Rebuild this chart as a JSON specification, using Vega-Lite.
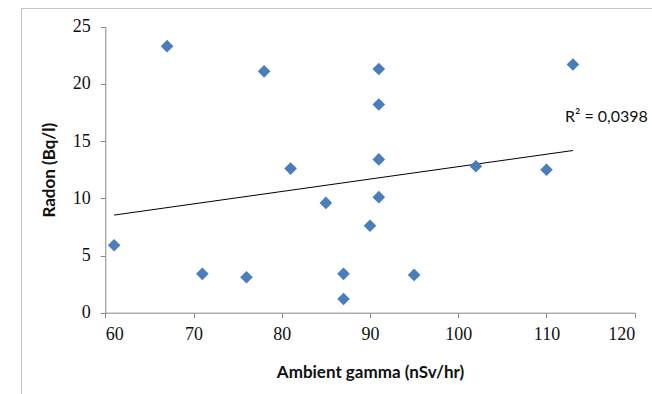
{
  "$schema": "https://vega.github.io/schema/vega-lite/v6.json",
  "width": 631,
  "height": 386,
  "autosize": "none",
  "padding": {"left": 21, "top": 8, "right": 0, "bottom": 0},
  "background": "white",
  "config": {
    "view": {"stroke": "#c4c4c4", "strokeWidth": 1},
    "axis": {
      "grid": false,
      "domainColor": "#868686",
      "tickColor": "#868686",
      "tickSize": 5,
      "labelColor": "#111111",
      "labelFont": "Liberation Serif",
      "labelFontSize": 18,
      "titleFont": "Lato",
      "titleFontSize": 17,
      "titleFontWeight": "bold",
      "titleColor": "#111111"
    }
  },
  "data": {
    "values": [
      {"gamma": 67, "radon": 23.3},
      {"gamma": 78, "radon": 21.1},
      {"gamma": 91, "radon": 21.3},
      {"gamma": 113, "radon": 21.7},
      {"gamma": 91, "radon": 18.2},
      {"gamma": 91, "radon": 13.4},
      {"gamma": 81, "radon": 12.6},
      {"gamma": 102, "radon": 12.8},
      {"gamma": 110, "radon": 12.5},
      {"gamma": 91, "radon": 10.1},
      {"gamma": 85, "radon": 9.6},
      {"gamma": 90, "radon": 7.6},
      {"gamma": 61, "radon": 5.9},
      {"gamma": 71, "radon": 3.4},
      {"gamma": 76, "radon": 3.1},
      {"gamma": 87, "radon": 3.4},
      {"gamma": 95, "radon": 3.3},
      {"gamma": 87, "radon": 1.2}
    ]
  },
  "layer": [
    {
      "transform": [{"regression": "radon", "on": "gamma"}],
      "mark": {"type": "line", "color": "#000000", "strokeWidth": 1},
      "encoding": {
        "x": {"field": "gamma", "type": "quantitative"},
        "y": {"field": "radon", "type": "quantitative"}
      }
    },
    {
      "mark": {"type": "point", "shape": "diamond", "filled": true, "size": 160, "color": "#4a7ebb", "opacity": 1},
      "encoding": {
        "x": {
          "field": "gamma",
          "type": "quantitative",
          "scale": {"domain": [60, 120], "range": [84.3, 613.7], "nice": false, "zero": false},
          "axis": {
            "title": "Ambient gamma (nSv/hr)",
            "values": [60, 70, 80, 90, 100, 110, 120],
            "offset": -81.3,
            "labelPadding": 8,
            "titlePadding": 21
          }
        },
        "y": {
          "field": "radon",
          "type": "quantitative",
          "scale": {"domain": [0, 25], "range": [304.7, 18.7], "nice": false},
          "axis": {
            "title": "Radon (Bq/l)",
            "values": [0, 5, 10, 15, 20, 25],
            "offset": -84.3,
            "labelPadding": 10,
            "titlePadding": 14
          }
        }
      }
    },
    {
      "data": {"values": [{"label": "R² = 0,0398", "gamma": 112.1, "radon": 17.1}]},
      "mark": {"type": "text", "align": "left", "baseline": "middle", "font": "Lato", "fontSize": 16, "fontWeight": "normal", "color": "#111111"},
      "encoding": {
        "x": {"field": "gamma", "type": "quantitative"},
        "y": {"field": "radon", "type": "quantitative"},
        "text": {"field": "label"}
      }
    }
  ]
}
